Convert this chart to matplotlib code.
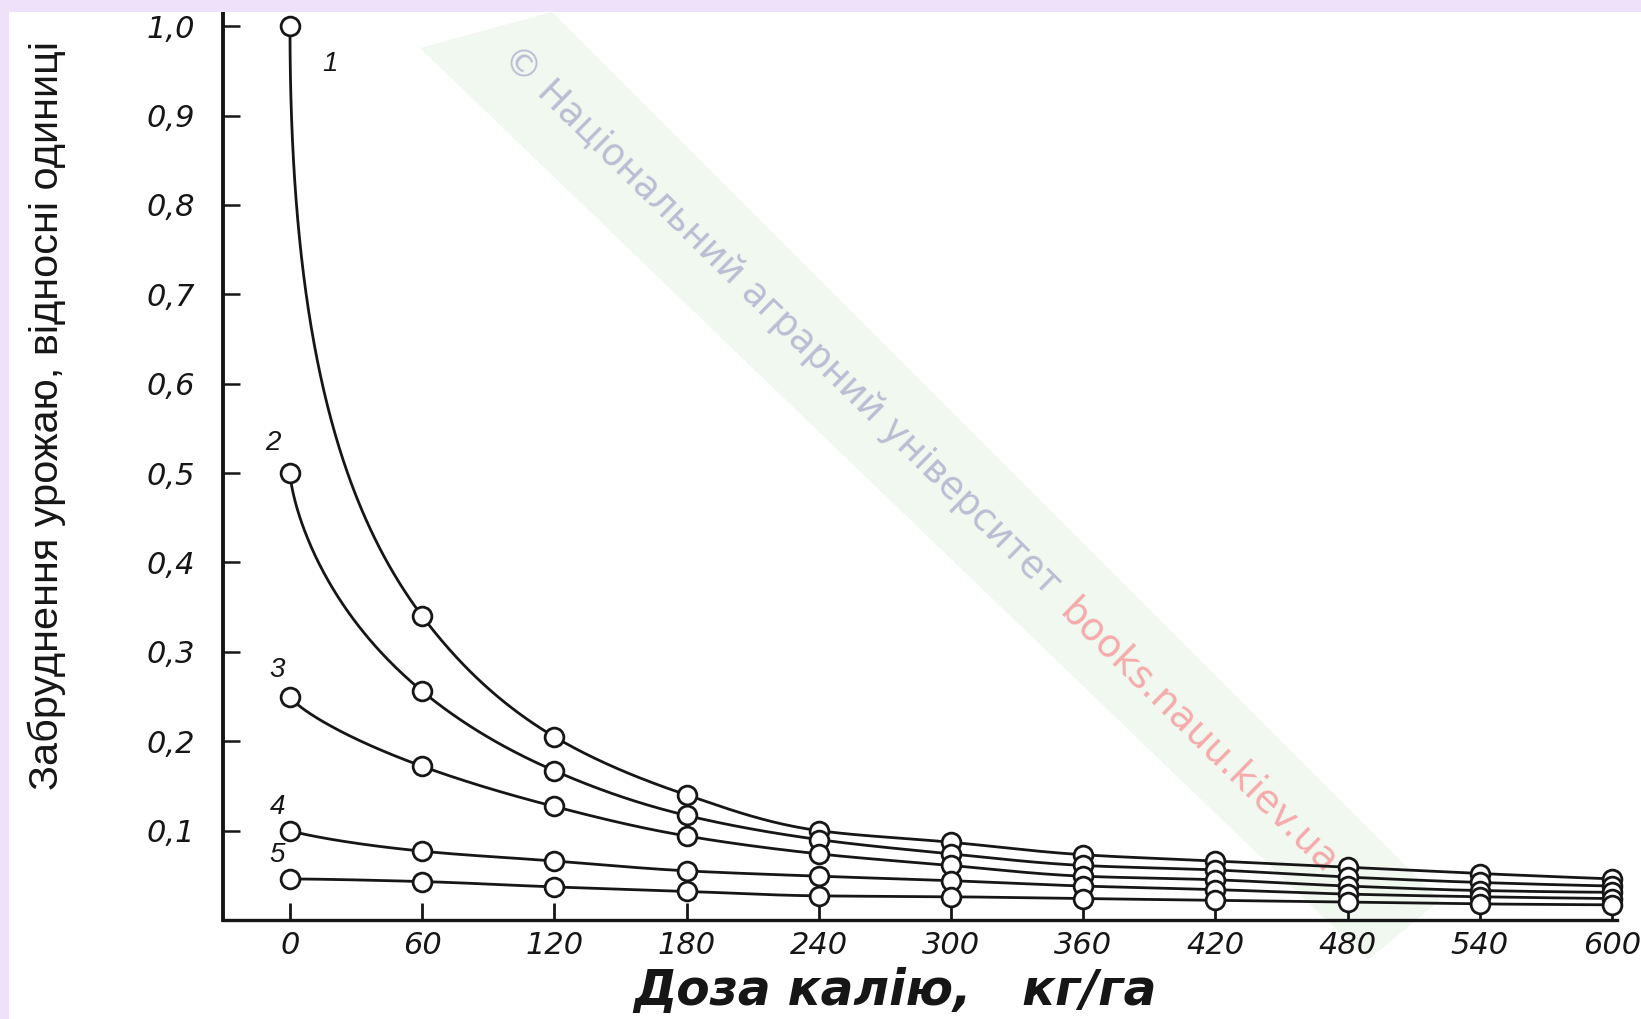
import numpy as np
import matplotlib
matplotlib.use("Agg")
import matplotlib.pyplot as plt
from matplotlib.patches import Polygon, Rectangle
from matplotlib import font_manager

# ---------------- data ----------------
dose = [0, 60, 120, 180, 240, 300, 360, 420, 480, 540, 600]
curve_1 = [1.00, 0.340, 0.205, 0.140, 0.100, 0.087, 0.073, 0.066, 0.059, 0.052, 0.046]
curve_2 = [0.50, 0.256, 0.167, 0.117, 0.090, 0.074, 0.061, 0.056, 0.048, 0.042, 0.038]
curve_3 = [0.25, 0.172, 0.127, 0.094, 0.074, 0.061, 0.049, 0.045, 0.038, 0.033, 0.031]
curve_4 = [0.10, 0.077, 0.066, 0.055, 0.049, 0.044, 0.038, 0.034, 0.029, 0.026, 0.024]
curve_5 = [0.046, 0.043, 0.037, 0.032, 0.027, 0.026, 0.024, 0.022, 0.020, 0.018, 0.017]
curve_names = ["1", "2", "3", "4", "5"]
y_tick_values = [0.1, 0.2, 0.3, 0.4, 0.5, 0.6, 0.7, 0.8, 0.9, 1.0]
y_tick_labels = ["0,1", "0,2", "0,3", "0,4", "0,5", "0,6", "0,7", "0,8", "0,9", "1,0"]
x_tick_labels = ["0", "60", "120", "180", "240", "300", "360", "420", "480", "540", "600"]
x_label = "Доза калію,   кг/га"
y_label = "Забруднення урожаю, відносні одиниці"
watermark_main = "© Національний аграрний університет"
watermark_site = "books.nauu.kiev.ua"

# ---------------- styling ----------------
W, H = 1641, 1019
INK = "#161616"
fig = plt.figure(figsize=(W / 100, H / 100), dpi=100)
fig.patch.set_facecolor("white")


def fx(px):
    return px / W


def fy(py):
    return 1 - py / H


installed = {f.name for f in font_manager.fontManager.ttflist}
SANS = "Liberation Sans" if "Liberation Sans" in installed else "DejaVu Sans"
NARROW = "Liberation Sans Narrow" if "Liberation Sans Narrow" in installed else SANS


def pchip(x, y, xq):
    x = np.asarray(x, float)
    y = np.asarray(y, float)
    h = np.diff(x)
    delta = np.diff(y) / h
    n = len(x)
    d = np.zeros(n)
    for k in range(1, n - 1):
        if delta[k - 1] * delta[k] > 0:
            w1 = 2 * h[k] + h[k - 1]
            w2 = h[k] + 2 * h[k - 1]
            d[k] = (w1 + w2) / (w1 / delta[k - 1] + w2 / delta[k])

    def edge(h0, h1, d0, d1):
        dd = ((2 * h0 + h1) * d0 - h0 * d1) / (h0 + h1)
        if np.sign(dd) != np.sign(d0):
            dd = 0.0
        elif np.sign(d0) != np.sign(d1) and abs(dd) > abs(3 * d0):
            dd = 3 * d0
        return dd

    d[0] = edge(h[0], h[1], delta[0], delta[1])
    d[-1] = edge(h[-1], h[-2], delta[-1], delta[-2])
    idx = np.clip(np.searchsorted(x, xq) - 1, 0, n - 2)
    t = (xq - x[idx]) / h[idx]
    h00 = 2 * t**3 - 3 * t**2 + 1
    h10 = t**3 - 2 * t**2 + t
    h01 = -2 * t**3 + 3 * t**2
    h11 = t**3 - t**2
    return h00 * y[idx] + h10 * h[idx] * d[idx] + h01 * y[idx + 1] + h11 * h[idx] * d[idx + 1]


def smooth(xs, ys, p):
    xs = np.asarray(xs, float)
    ys = np.asarray(ys, float)
    t = xs**p
    tq = np.linspace(t[0], t[-1], 600)
    yq = np.exp(pchip(t, np.log(ys), tq))
    return tq ** (1 / p), yq


# ---------------- background decorations ----------------
band = Polygon([(fx(420), fy(48)), (fx(552), fy(12)), (fx(1440), fy(900)), (fx(1368), fy(960))],
               closed=True, transform=fig.transFigure, facecolor="#F0F8F0", edgecolor="none", zorder=-3)
fig.patches.append(band)

wm1 = fig.text(fx(508), fy(52), watermark_main, color="#BCBCD2", family="DejaVu Sans", fontsize=24,
               ha="left", va="center", rotation_mode="anchor", zorder=-2)
wm2 = fig.text(fx(1066), fy(606), watermark_site, color="#F6ABAB", family="DejaVu Sans", fontsize=24,
               ha="left", va="center", rotation_mode="anchor", zorder=-2)

fig.patches.append(Rectangle((0, 0), fx(9), 1, transform=fig.transFigure,
                             facecolor="#EFE1F9", edgecolor="none", zorder=10))
fig.patches.append(Rectangle((0, fy(12)), 1, 12 / H, transform=fig.transFigure,
                             facecolor="#EFE1F9", edgecolor="none", zorder=10))

# ---------------- axes ----------------
ax = fig.add_axes([fx(223), fy(920), fx(1617) - fx(223), fy(10.5) - fy(920)])
ax.set_facecolor("none")
ax.set_xlim(-30.4, 602.3)
ax.set_ylim(0, 1.0176)

series = [curve_1, curve_2, curve_3, curve_4, curve_5]
shape = [0.5, 0.72, 0.8, 0.9, 1.0]
label_offsets = [(29, -27), (-12, 22), (-9, 19), (-9, 17), (-9, 17)]

for ys, p, name, off in zip(series, shape, curve_names, label_offsets):
    xs_s, ys_s = smooth(dose, ys, p)
    ax.plot(xs_s, ys_s, color=INK, lw=2.0, zorder=3, clip_on=False)
    ax.plot(dose, ys, ls="none", marker="o", ms=13.5, mfc="white", mec=INK, mew=2.0,
            zorder=4, clip_on=False)
    ax.annotate(name, xy=(dose[0], ys[0]), xytext=off, textcoords="offset points",
                ha="center", va="center", fontsize=20, style="italic", color=INK, family=SANS)

for s in ["top", "right"]:
    ax.spines[s].set_visible(False)
ax.spines["left"].set_linewidth(2.8)
ax.spines["bottom"].set_linewidth(2.4)
ax.spines["left"].set_color(INK)
ax.spines["bottom"].set_color(INK)

ax.set_xticks(dose)
ax.set_xticklabels(x_tick_labels)
ax.set_yticks(y_tick_values)
ax.set_yticklabels(y_tick_labels)
ax.tick_params(axis="x", direction="in", length=12, width=2.0, pad=8, labelsize=22,
               colors=INK)
ax.tick_params(axis="y", direction="in", length=12, width=1.8, pad=20, labelsize=22,
               colors=INK)
for lab in ax.get_xticklabels() + ax.get_yticklabels():
    lab.set_fontstyle("italic")
    lab.set_family("DejaVu Sans")

xl = fig.text(fx(895), fy(1005), x_label, fontsize=35, fontweight="bold", fontstyle="italic",
              family="DejaVu Sans", color=INK, ha="center", va="baseline")
yl = fig.text(fx(47), fy(416), y_label, fontsize=30, family=NARROW, fontstretch="condensed",
              color=INK, ha="center", va="center", rotation=90)

# fit text lengths to the reference
r = fig.canvas.get_renderer()
for t, target, attr, cap in [(yl, 748, "height", 60),
                             (wm1, 768, "width", 60), (wm2, 375, "width", 60)]:
    bb = t.get_window_extent(r)
    t.set_fontsize(min(cap, t.get_fontsize() * target / getattr(bb, attr)))
wm1.set_rotation(-44.5)
wm2.set_rotation(-44.5)

fig.savefig("out.png", dpi=100, facecolor="white")
